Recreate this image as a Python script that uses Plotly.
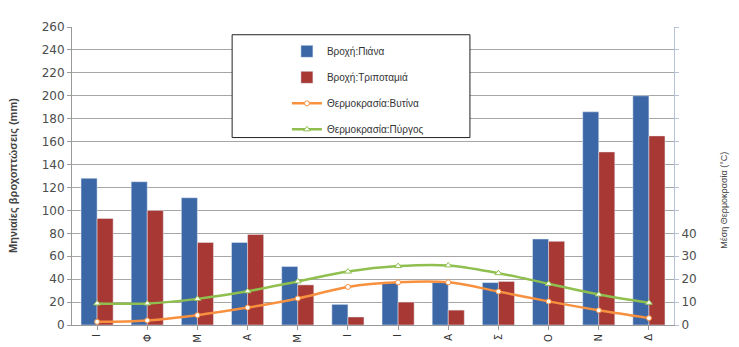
import plotly.graph_objects as go

# monthly data (Jan..Dec)
months = ['Ι', 'Φ', 'Μ', 'Α', 'Μ', 'Ι', 'Ι', 'Α', 'Σ', 'Ο', 'Ν', 'Δ']
rain_piana = [128, 125, 111, 72, 51, 18, 37, 37, 37, 75, 186, 200]
rain_tripotamia = [93, 100, 72, 79, 35, 7, 20, 13, 38, 73, 151, 165]
temp_vytina = [1.4, 2.0, 4.3, 7.6, 11.6, 16.6, 18.6, 18.6, 14.6, 10.3, 6.4, 3.0]
temp_pyrgos = [9.4, 9.4, 11.4, 14.7, 19.0, 23.3, 25.7, 26.0, 22.6, 18.0, 13.3, 9.7]

x = list(range(12))

fig = go.Figure()
fig.add_trace(go.Bar(x=x, y=rain_piana, name='Βροχή:Πιάνα', marker_color='#3c67a6',
                     legendgroup='a'))
fig.add_trace(go.Bar(x=x, y=rain_tripotamia, name='Βροχή:Τριποταμιά', marker_color='#a83834',
                     legendgroup='b'))
fig.add_trace(go.Scatter(x=x, y=temp_vytina, name='Θερμοκρασία:Βυτίνα', yaxis='y2',
                         mode='lines+markers', line=dict(color='#f7913f', width=2.5, shape='spline'),
                         marker=dict(symbol='circle', size=5, color='white',
                                     line=dict(color='#f7913f', width=1)),
                         legendgroup='c'))
fig.add_trace(go.Scatter(x=x, y=temp_pyrgos, name='Θερμοκρασία:Πύργος', yaxis='y2',
                         mode='lines+markers', line=dict(color='#8fbf4e', width=2.5, shape='spline'),
                         marker=dict(symbol='triangle-up', size=6, color='white',
                                     line=dict(color='#8fbf4e', width=1)),
                         legendgroup='d'))

# page body margin pushes the figure 8px right, so it is a bit narrower than the window
fig.update_layout(
    width=731, height=347,
    margin=dict(l=64, r=65, t=19, b=21),
    paper_bgcolor='white', plot_bgcolor='white',
    font=dict(family='DejaVu Sans', size=12, color='#4d4d4d'),
    barmode='group', bargap=0.36, bargroupgap=0,
    showlegend=True,
    legend=dict(x=0.357, y=0.967, xanchor='left', yanchor='top',
                bgcolor='rgba(0,0,0,0)', tracegroupgap=7,
                font=dict(family='Liberation Sans', size=10, color='#333333'),
                traceorder='grouped', itemwidth=30),
    xaxis=dict(tickmode='array', tickvals=x, ticktext=months, tickangle=-90,
               range=[-0.5, 11.5], showline=True, linecolor='#999999',
               ticks='outside', tickson='boundaries', ticklen=4, tickcolor='#999999',
               tickfont=dict(size=10, color='#333333'), showgrid=False),
    yaxis=dict(range=[0, 260], tickvals=list(range(0, 261, 20)), showgrid=True,
               gridcolor='#a6a6a6', gridwidth=1, showline=True, linecolor='#999999',
               ticks='outside', ticklen=4, tickcolor='#999999', zeroline=False),
    yaxis2=dict(overlaying='y', side='right', range=[0, 130],
                tickvals=list(range(0, 131, 10)),
                ticktext=[str(v) if v <= 40 else '' for v in range(0, 131, 10)],
                showgrid=False, showline=True, linecolor='#b8c2d6', zeroline=False,
                ticks='outside', ticklen=4, tickcolor='#b8c2d6'),
    shapes=[dict(type='rect', xref='paper', yref='paper',
                 x0=0.266, x1=0.661, y0=0.629, y1=0.974,
                 line=dict(color='#222222', width=1), fillcolor='white', layer='above')],
    annotations=[
        dict(text='<b>Μηνιαίες βροχοπτώσεις (mm)</b>', xref='paper', yref='paper',
             x=-0.098, y=0.5, xanchor='center', textangle=-90, showarrow=False,
             font=dict(family='Liberation Sans', size=11, color='#444444')),
        dict(text='Μέση Θερμοκρασία (°C)', xref='paper', yref='paper',
             x=1.083, y=0.42, xanchor='center', textangle=-90, showarrow=False,
             font=dict(family='Liberation Sans', size=9, color='#444444')),
    ],
)

fig.write_html("out.html")
